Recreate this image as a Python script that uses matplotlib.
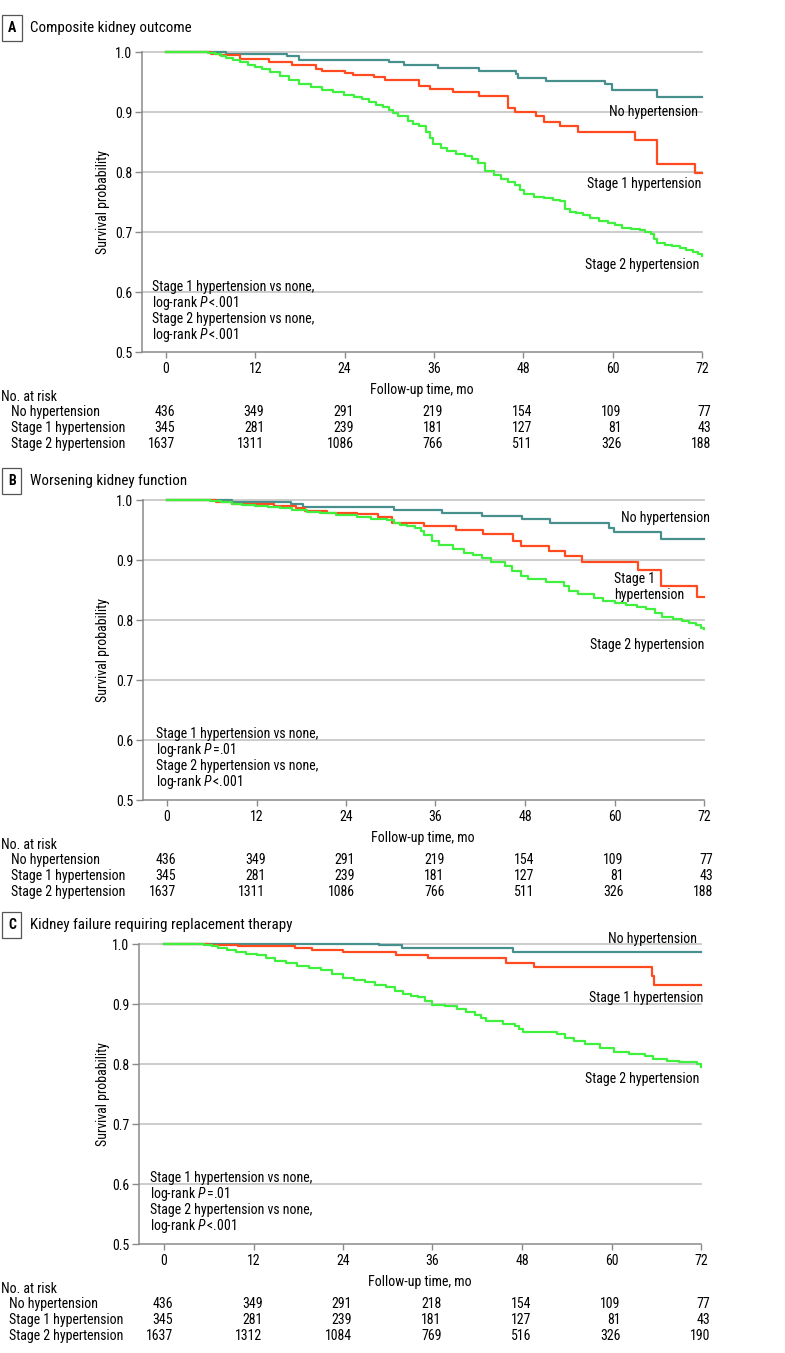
import matplotlib
matplotlib.use("Agg")
import matplotlib.pyplot as plt
from matplotlib import font_manager
from matplotlib.transforms import blended_transform_factory, ScaledTranslation


GROUPS = ["No hypertension", "Stage 1 hypertension", "Stage 2 hypertension"]
MONTHS = [0, 12, 24, 36, 48, 60, 72]
COLORS = ["#48908e", "#ff4b1f", "#3ff03f"]

# A - composite kidney outcome (step points)
a_none_t = [0, 8.1, 16.2, 17.9, 30.0, 32.0, 36.5, 42.0, 47.0, 47.3, 51.0, 59.0, 59.9, 66.0, 72]
a_none_s = [1.0, 0.996, 0.993, 0.986, 0.983, 0.978, 0.973, 0.969, 0.963, 0.957, 0.951, 0.946, 0.936, 0.925, 0.925]
a_s1_t = [0, 6.1, 7.3, 10.0, 13.8, 16.9, 20.1, 21.0, 24.0, 25.1, 28.0, 29.4, 34.0, 35.5, 38.6,
          42.0, 46.0, 46.9, 49.7, 50.8, 52.9, 55.4, 63.0, 65.9, 71.0, 72]
a_s1_s = [1.0, 0.997, 0.995, 0.989, 0.984, 0.978, 0.972, 0.969, 0.965, 0.962, 0.958, 0.953, 0.944, 0.938, 0.933,
          0.926, 0.907, 0.900, 0.893, 0.884, 0.876, 0.867, 0.854, 0.814, 0.798, 0.798]
a_s2_t = [0, 5.7, 6.6, 7.4, 8.1, 9.0, 10.0, 11.0, 12.0, 12.9, 14.0, 15.3, 16.5, 17.9, 19.5, 21.0, 22.5,
          23.9, 25.2, 26.3, 27.3, 28.2, 29.2, 29.9, 30.5, 31.1, 32.5, 33.2, 34.0, 34.9, 35.4, 35.9, 37.0,
          37.8, 39.0, 40.2, 41.1, 41.9, 42.8, 44.0, 45.0, 46.0, 46.9, 47.5, 48.1, 49.5, 50.8, 52.0, 52.9,
          53.6, 54.3, 55.1, 56.0, 57.0, 58.2, 59.4, 60.3, 61.3, 62.5, 63.7, 64.4, 65.1, 65.6, 66.0, 67.0,
          68.0, 69.0, 69.9, 70.8, 71.5, 72]
a_s2_s = [1.0, 0.998, 0.996, 0.993, 0.990, 0.987, 0.983, 0.979, 0.975, 0.971, 0.966, 0.960, 0.954, 0.947,
          0.941, 0.937, 0.933, 0.929, 0.925, 0.921, 0.917, 0.912, 0.908, 0.904, 0.898, 0.893, 0.885, 0.880,
          0.876, 0.866, 0.856, 0.846, 0.840, 0.835, 0.830, 0.826, 0.821, 0.815, 0.802, 0.795, 0.788, 0.783,
          0.779, 0.770, 0.763, 0.759, 0.756, 0.753, 0.751, 0.738, 0.734, 0.732, 0.728, 0.723, 0.719, 0.715,
          0.711, 0.707, 0.705, 0.703, 0.700, 0.696, 0.688, 0.682, 0.679, 0.676, 0.673, 0.670, 0.667, 0.663,
          0.660]

# B - worsening kidney function
b_none_t = [0, 8.7, 16.6, 18.3, 30.4, 36.9, 42.2, 47.6, 51.3, 59.2, 59.9, 66.2, 72]
b_none_s = [1.0, 0.997, 0.993, 0.988, 0.983, 0.979, 0.973, 0.968, 0.961, 0.954, 0.946, 0.935, 0.935]
b_s1_t = [0, 6.6, 8.7, 14.4, 17.3, 18.5, 21.5, 25.5, 28.3, 30.2, 34.5, 38.8, 42.4, 46.4, 47.5, 51.2,
          53.3, 55.7, 63.2, 66.3, 71.1, 72]
b_s1_s = [1.0, 0.997, 0.994, 0.990, 0.986, 0.982, 0.979, 0.976, 0.972, 0.962, 0.956, 0.950, 0.943, 0.931,
          0.923, 0.915, 0.906, 0.897, 0.884, 0.856, 0.839, 0.839]
b_s2_t = [0, 5.8, 7.3, 8.7, 10.1, 11.8, 13.5, 15.2, 16.8, 18.8, 20.5, 22.6, 25.5, 27.4, 29.5, 30.5, 31.2,
          32.2, 33.3, 34.0, 34.5, 35.5, 36.5, 38.4, 39.8, 41.0, 42.2, 43.4, 45.3, 46.3, 47.5, 48.4, 50.8,
          53.2, 53.9, 55.1, 57.3, 58.5, 60.0, 61.6, 63.0, 64.2, 65.4, 66.4, 67.8, 69.0, 70.0, 70.9, 71.6, 72]
b_s2_s = [1.0, 0.998, 0.996, 0.994, 0.992, 0.990, 0.988, 0.986, 0.984, 0.980, 0.978, 0.975, 0.972, 0.969,
          0.966, 0.962, 0.958, 0.956, 0.953, 0.948, 0.942, 0.932, 0.925, 0.918, 0.912, 0.908, 0.903, 0.897,
          0.890, 0.881, 0.873, 0.868, 0.864, 0.857, 0.848, 0.843, 0.837, 0.832, 0.829, 0.825, 0.822, 0.819,
          0.811, 0.805, 0.802, 0.799, 0.795, 0.792, 0.787, 0.785]

# C - kidney failure requiring replacement therapy
c_none_t = [0, 28.8, 31.9, 46.8, 72]
c_none_s = [1.0, 0.998, 0.994, 0.986, 0.986]
c_s1_t = [0, 6.1, 9.9, 17.6, 19.9, 24.0, 31.1, 35.4, 45.8, 49.6, 65.4, 65.7, 72]
c_s1_s = [1.0, 0.999, 0.997, 0.994, 0.990, 0.986, 0.982, 0.976, 0.969, 0.961, 0.946, 0.932, 0.932]
c_s2_t = [0, 5.4, 6.4, 7.3, 8.5, 9.7, 11.0, 12.5, 13.7, 14.9, 16.4, 17.8, 19.5, 21.1, 22.5, 24.0, 25.5,
          26.9, 28.3, 29.8, 31.0, 32.1, 33.1, 34.1, 35.0, 36.0, 37.7, 39.3, 40.5, 41.7, 42.5, 43.2, 45.5,
          47.0, 47.6, 48.2, 52.7, 53.7, 55.0, 56.5, 58.5, 60.4, 62.3, 64.5, 65.6, 67.5, 69.0, 71.4, 72]
c_s2_s = [1.0, 0.998, 0.996, 0.994, 0.990, 0.986, 0.984, 0.981, 0.976, 0.972, 0.968, 0.964, 0.960, 0.956,
          0.950, 0.944, 0.940, 0.936, 0.932, 0.928, 0.922, 0.917, 0.914, 0.911, 0.905, 0.899, 0.896, 0.892,
          0.887, 0.881, 0.876, 0.871, 0.867, 0.864, 0.858, 0.853, 0.850, 0.843, 0.839, 0.834, 0.826, 0.820,
          0.817, 0.813, 0.808, 0.805, 0.803, 0.800, 0.795]

# numbers at risk
a_risk_none = [436, 349, 291, 219, 154, 109, 77]
a_risk_s1 = [345, 281, 239, 181, 127, 81, 43]
a_risk_s2 = [1637, 1311, 1086, 766, 511, 326, 188]
b_risk_none = [436, 349, 291, 219, 154, 109, 77]
b_risk_s1 = [345, 281, 239, 181, 127, 81, 43]
b_risk_s2 = [1637, 1311, 1086, 766, 511, 326, 188]
c_risk_none = [436, 349, 291, 218, 154, 109, 77]
c_risk_s1 = [345, 281, 239, 181, 127, 81, 43]
c_risk_s2 = [1637, 1312, 1084, 769, 516, 326, 190]

TITLES = ["Composite kidney outcome", "Worsening kidney function",
          "Kidney failure requiring replacement therapy"]
LETTERS = ["A", "B", "C"]
P_STAGE1 = ["<", "=", "="]
P_STAGE2 = ["<", "<", "<"]
P_VAL1 = [".001", ".01", ".01"]
P_VAL2 = [".001", ".001", ".001"]


# a narrow sans face is closest to the journal font; take the first one present
installed = {f.name for f in font_manager.fontManager.ttflist}
narrow = ["Roboto Condensed", "Fira Sans Condensed", "PT Sans Narrow", "Liberation Sans Narrow",
          "Open Sans Condensed", "IBM Plex Sans Condensed", "Archivo Narrow", "Encode Sans Condensed",
          "Asap Condensed", "Barlow Semi Condensed", "Pragati Narrow"]
FONT = next((f for f in narrow if f in installed), "DejaVu Sans")
plt.rcParams["font.family"] = [FONT, "DejaVu Sans"]
plt.rcParams["mathtext.fontset"] = "custom"
plt.rcParams["mathtext.rm"] = FONT
plt.rcParams["mathtext.it"] = FONT + ":italic"
FS = 10
W, H = 785, 1353

fig = plt.figure(figsize=(W / 100, H / 100), dpi=100)


def fy(y):
    return 1 - y / H


def fx(x):
    return x / W


def draw_panel(i, layout, curves, risk, labels):
    left, top, right, bottom, x0, x72 = layout["axes"]
    ax = fig.add_axes([fx(left), fy(bottom), (right - left) / W, (bottom - top) / H])
    per_month = (x72 - x0) / 72
    ax.set_xlim(-(x0 - left) / per_month, 72 + (right - x72) / per_month)
    ax.set_ylim(0.5, 1.0)

    for y in [0.6, 0.7, 0.8, 0.9, 1.0]:
        ax.axhline(y, color="#c4c4c4", lw=1.2, zorder=1, clip_on=False)
    for (t, s), col in zip(curves, COLORS):
        ax.step(t, s, where="post", color=col, lw=1.6, zorder=3, clip_on=False)

    for side in ["top", "right"]:
        ax.spines[side].set_visible(False)
    for side in ["left", "bottom"]:
        ax.spines[side].set_color("#8a8a8a")
        ax.spines[side].set_linewidth(1.1)
    ax.set_yticks([0.5, 0.6, 0.7, 0.8, 0.9, 1.0])
    ax.set_yticklabels(["0.5", "0.6", "0.7", "0.8", "0.9", "1.0"])
    ax.set_xticks(MONTHS)
    ax.set_xticklabels([str(m) for m in MONTHS])
    ax.tick_params(axis="y", length=5, width=1, color="#8a8a8a", pad=1.5, labelsize=FS)
    ax.tick_params(axis="x", length=4, width=1, color="#8a8a8a", pad=3, labelsize=FS)

    # title with boxed letter
    ty = layout["title_y"]
    fig.text(fx(8), fy(ty), LETTERS[i], fontsize=FS, fontweight="bold", ha="left", va="center",
             bbox=dict(boxstyle="square,pad=0.4", fc="white", ec="#555555", lw=0.9))
    fig.text(fx(30), fy(ty), TITLES[i], fontsize=10.8, ha="left", va="center")

    fig.text(fx(103), fy((top + bottom) / 2), "Survival probability", rotation=90,
             fontsize=FS, ha="center", va="center")
    fig.text(fx((left + right) / 2), fy(bottom + 38), "Follow-up time, mo", fontsize=FS,
             ha="center", va="center")

    # group labels
    for (x, y, ha), name in zip(labels, ["No hypertension", layout["s1_label"], "Stage 2 hypertension"]):
        fig.text(fx(x), fy(y), name, fontsize=FS, ha=ha, va="center", linespacing=1.2)

    # log-rank text
    lx, ly = layout["logrank"]
    lines = ["Stage 1 hypertension vs none,",
             r"log-rank $P\,$" + P_STAGE1[i] + P_VAL1[i],
             "Stage 2 hypertension vs none,",
             r"log-rank $P\,$" + P_STAGE2[i] + P_VAL2[i]]
    for k, line in enumerate(lines):
        fig.text(fx(lx), fy(ly + 16 * k), line, fontsize=FS, ha="left", va="center")

    # number at risk table
    fig.text(fx(1), fy(bottom + 45), "No. at risk", fontsize=FS, ha="left", va="center")
    trans = blended_transform_factory(ax.transData, fig.transFigure) + \
        ScaledTranslation(9 / 100, 0, fig.dpi_scale_trans)
    for r, (name, counts) in enumerate(zip(GROUPS, risk)):
        y = fy(bottom + 60 + 16 * r)
        fig.text(fx(layout["row_x"]), y, name, fontsize=FS, ha="left", va="center")
        for m, n in zip(MONTHS, counts):
            ax.text(m, y, str(n), transform=trans, fontsize=FS, ha="right", va="center")
    return ax


layouts = [
    dict(axes=(141.5, 52, 702, 352, 166, 702), title_y=28, logrank=(152, 287), row_x=11,
         s1_label="Stage 1 hypertension"),
    dict(axes=(142.5, 500, 704, 800, 167, 704), title_y=481, logrank=(156, 734), row_x=11,
         s1_label="Stage 1\nhypertension"),
    dict(axes=(138.5, 944, 701, 1244, 164, 701), title_y=925, logrank=(150, 1178), row_x=9,
         s1_label="Stage 1 hypertension"),
]
label_pos = [
    [(698, 112, "right"), (701, 184, "right"), (699, 265, "right")],
    [(621, 518, "left"), (614, 587, "left"), (704, 645, "right")],
    [(697, 939, "right"), (703, 998, "right"), (699, 1079, "right")],
]
curve_sets = [
    [(a_none_t, a_none_s), (a_s1_t, a_s1_s), (a_s2_t, a_s2_s)],
    [(b_none_t, b_none_s), (b_s1_t, b_s1_s), (b_s2_t, b_s2_s)],
    [(c_none_t, c_none_s), (c_s1_t, c_s1_s), (c_s2_t, c_s2_s)],
]
risk_sets = [
    [a_risk_none, a_risk_s1, a_risk_s2],
    [b_risk_none, b_risk_s1, b_risk_s2],
    [c_risk_none, c_risk_s1, c_risk_s2],
]

for i in range(3):
    draw_panel(i, layouts[i], curve_sets[i], risk_sets[i], label_pos[i])

fig.savefig("out.png", dpi=100)
